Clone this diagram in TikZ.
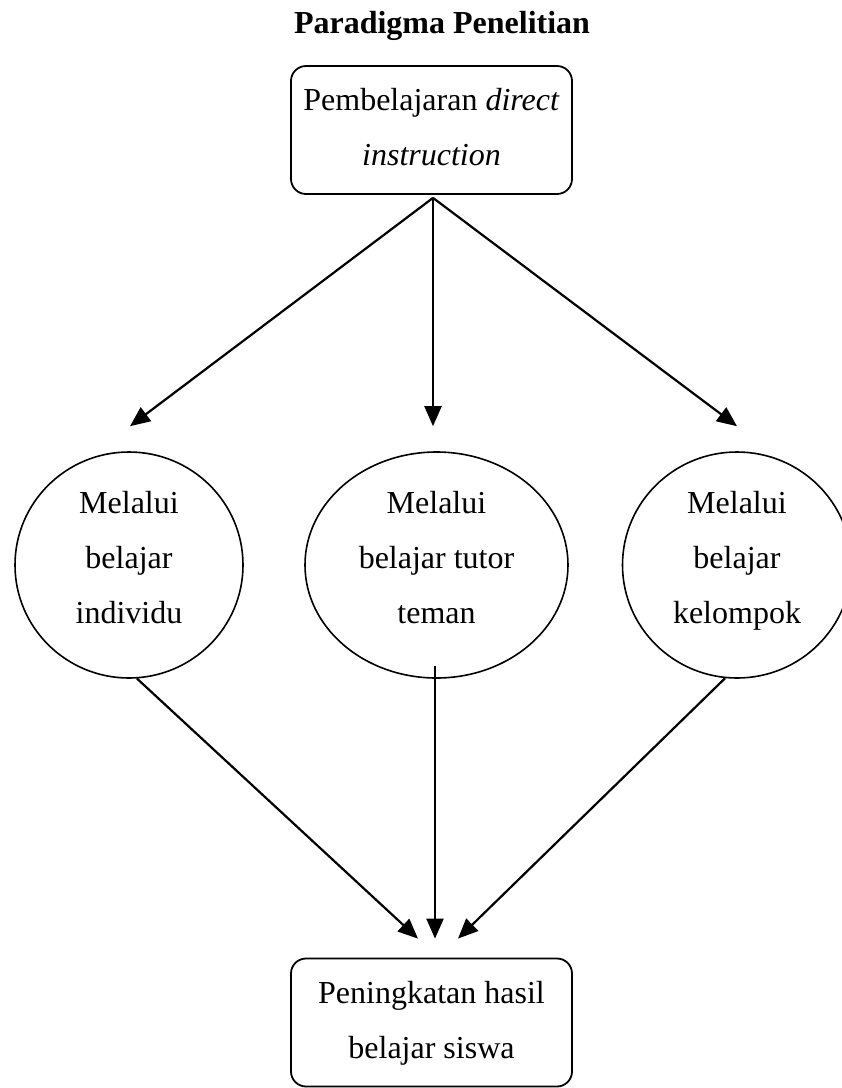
\documentclass[tikz,border=0pt]{standalone}
\usepackage{fontspec}
\setmainfont{Liberation Serif}
\usetikzlibrary{arrows.meta,shapes.geometric}

\tikzset{
  kotak/.style={draw,line width=1.8pt,rounded corners=15pt,minimum width=281pt,minimum height=128pt,align=center,inner sep=0pt,text depth=6pt},
  bulat/.style={draw,ellipse,line width=1.6pt,inner sep=0pt,align=center,minimum height=226pt,text depth=16pt},
  panah/.style={line width=2.2pt,-{Triangle[length=20pt,width=17pt]}}
}

\begin{document}
\begin{tikzpicture}[x=1pt,y=-1pt,font=\fontsize{32}{55}\selectfont]
	\useasboundingbox (0,0) rectangle (842,1088);
	\node[anchor=base] (judul) at (442,33) {\textbf{Paradigma Penelitian}};
	\node[kotak] (pdi) at (431.5,130) {Pembelajaran \textit{direct}\\ \textit{instruction}};
	\node[bulat,minimum width=228pt] (indiv) at (129,565) {Melalui\\ belajar\\ individu};
	\node[bulat,minimum width=263pt] (tutor) at (436.5,565) {Melalui\\ belajar tutor\\ teman};
	\node[bulat,minimum width=229pt] (klp) at (737,565) {Melalui\\ belajar\\ kelompok};
	\node[kotak] (hasil) at (431.5,1022.5) {Peningkatan hasil\\ belajar siswa};
	% titik pangkal dan ujung panah
	\coordinate (pecah) at ([xshift=1.5pt,yshift=-3pt]pdi.south);
	\coordinate (u1) at ([xshift=1pt,yshift=25pt]indiv.north);
	\coordinate (u2) at ([xshift=-3.5pt,yshift=25pt]tutor.north);
	\coordinate (u3) at ([yshift=25pt]klp.north);
	\coordinate (v1) at ([xshift=-13.5pt,yshift=19pt]hasil.north);
	\coordinate (v2) at ([xshift=3.5pt,yshift=19pt]hasil.north);
	\coordinate (v3) at ([xshift=26.5pt,yshift=19pt]hasil.north);
	\draw[panah] (pecah) -- (u1);
	\draw[panah] (pecah) -- (u2);
	\draw[panah] (pecah) -- (u3);
	\draw[panah] (indiv.-86) -- (v1);
	\draw[panah] ([xshift=-1.5pt,yshift=13pt]tutor.south) -- (v2);
	\draw[panah] (klp.-96) -- (v3);
\end{tikzpicture}
\end{document}
